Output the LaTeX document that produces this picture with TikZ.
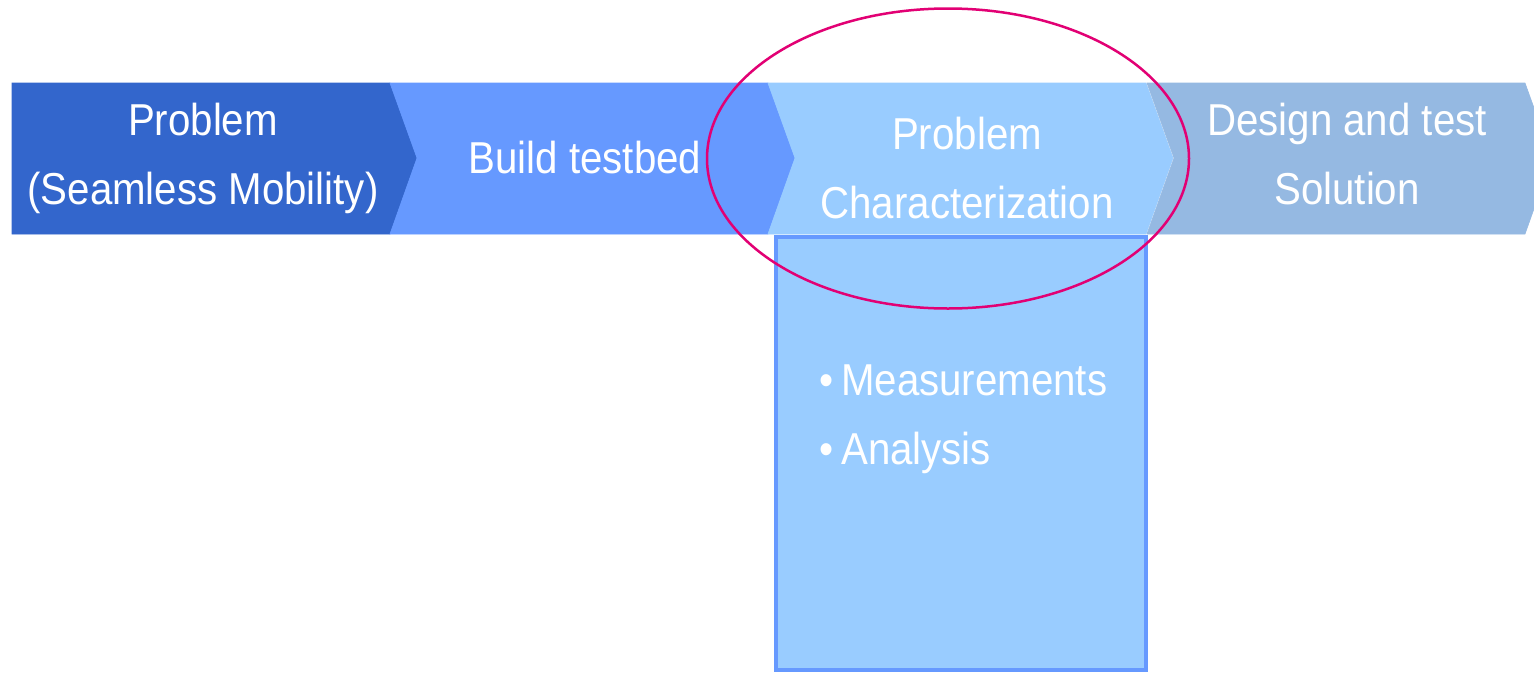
\documentclass[tikz,border=0pt]{standalone}
\usepackage{fontspec}
\setmainfont[FakeStretch=0.9]{Liberation Sans}
\usetikzlibrary{calc}

\definecolor{stepone}{HTML}{3366CC}
\definecolor{steptwo}{HTML}{6699FF}
\definecolor{stepthree}{HTML}{99CCFF}
\definecolor{stepfour}{HTML}{95B9E2}
\definecolor{focus}{HTML}{E20074}

\tikzset{
 steptext/.style={text=white, align=center, inner sep=0pt, font=\fontsize{44.7}{69}\selectfont},
}

\begin{document}
\begin{tikzpicture} [x=1pt,y=-1pt]
\useasboundingbox (0,0) rectangle (1534,672);
\fill[white] (0,0) rectangle (1534,672);
% first step, flat left end
\filldraw[stepone, line width=.6pt] (12,83)--(390,83)--(417,158)--(390,234)--(12,234)--cycle;
% the other steps
\foreach \a/\c in {390/steptwo,768/stepthree,1147/stepfour} {
 \filldraw[\c, line width=.6pt] (\a,83)--++(378,0)--++(27,75)--++(-27,76)--++(-378,0)--++(27,-76)--cycle;
}
% box under the third step
\draw[steptwo, line width=4.5pt, fill=stepthree] (776,237) rectangle (1146,670);

\node[steptext] (prob) at (203,158) {Problem\\(Seamless Mobility)};
\node[steptext] (build) at (585,158) {Build testbed};
\node[steptext] (charac) at (967,168) {Problem\\Characterization};
\node[steptext] (design) at (1347,154) {Design and test\\Solution};
\node[steptext, align=left, anchor=north west] (items) at (819,365)
 {\textbullet\hspace{8pt}Measurements\\\textbullet\hspace{8pt}Analysis};

\draw[focus, line width=2.5pt] (948,158.5) ellipse [x radius=241, y radius=150];
\end{tikzpicture}
\end{document}
